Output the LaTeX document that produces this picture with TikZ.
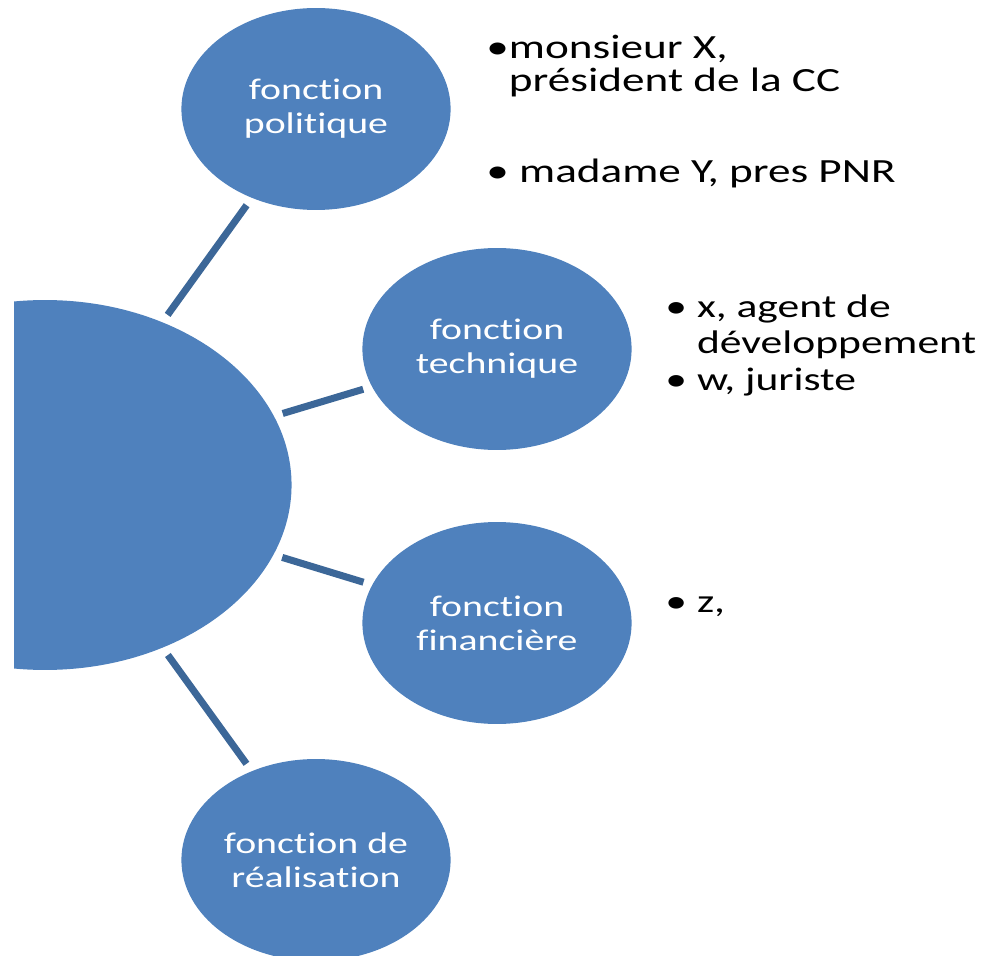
\documentclass[tikz,border=0pt]{standalone}
\usepackage{fontspec}
\setmainfont{Carlito}[Ligatures=NoCommon]
\definecolor{bleubulle}{RGB}{79,129,189}
\definecolor{bleulien}{RGB}{60,103,152}

\begin{document}
\begin{tikzpicture}[x=0.02cm,y=-0.02cm]
      \tikzstyle{bulle}=[circle,fill=bleubulle,text=white,inner sep=0pt,
        xscale=1.333,transform shape,align=center,
        font=\fontsize{17}{19.4}\selectfont]
      \tikzstyle{lien}=[draw=bleulien,line width=4pt,shorten <=5pt,shorten >=5pt]
      \tikzstyle{liste}=[anchor=base west,align=left,inner sep=0pt,
        xscale=1.333,transform shape,
        font=\fontsize{19.3}{18.8}\selectfont]

      \useasboundingbox (0,0) rectangle (1001,956);
      \clip (14,0) rectangle (1001,956);

      \node[bulle,minimum size=7.4cm]  (centre) at (45,485)  {};
      \node[bulle,minimum size=4.04cm] (pol)    at (316,109) {fonction\\politique};
      \node[bulle,minimum size=4.04cm] (tech)   at (497,349) {fonction\\technique};
      \node[bulle,minimum size=4.04cm] (fin)    at (497,623) {fonction\\financière};
      \node[bulle,minimum size=4.04cm] (real)   at (316,860) {fonction de\\réalisation};

      \draw[lien] (centre) -- (pol);
      \draw[lien] (centre) -- (tech);
      \draw[lien] (centre) -- (fin);
      \draw[lien] (centre) -- (real);

      % personnes (base = ligne du bas)
      \node[liste] (lpol1) at (486,92)  {•monsieur X,\\\phantom{•}président de la CC};
      \node[liste] (lpol2) at (486,183) {• madame Y, pres PNR};
      \node[liste,font=\fontsize{18.6}{20.5}\selectfont] (ltech) at (665,390)
        {• x, agent de\\\phantom{• }développement\\• w, juriste};
      \node[liste,font=\fontsize{18.6}{20.5}\selectfont] (lfin) at (665,612) {• z,};
\end{tikzpicture}
\end{document}
